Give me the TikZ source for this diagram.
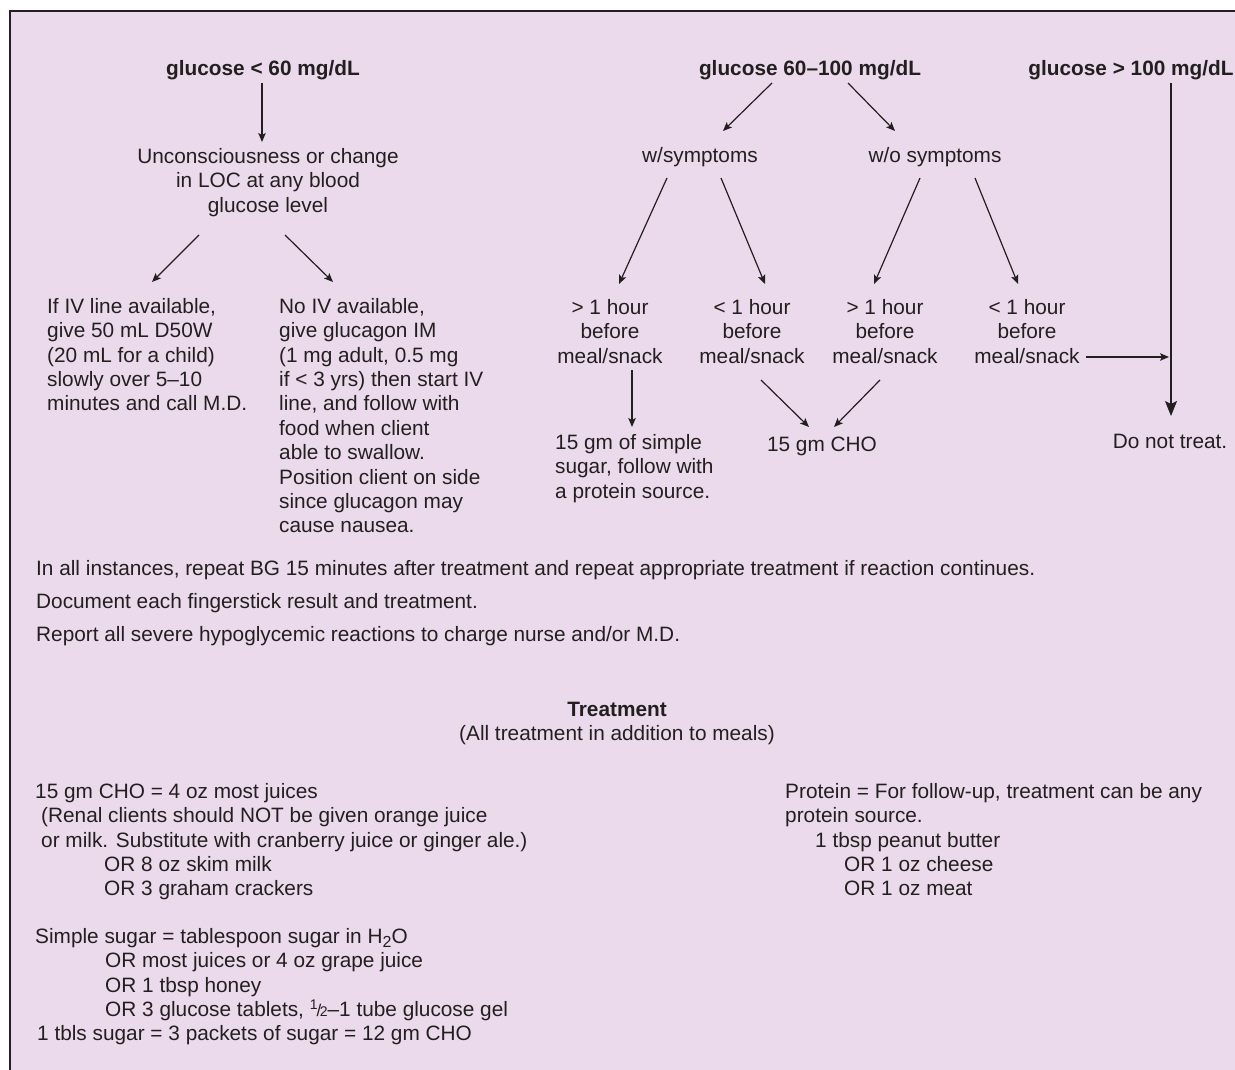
\documentclass[tikz,border=0pt]{standalone}
\usepackage{fontspec}
\setmainfont{Liberation Sans}
\usetikzlibrary{arrows.meta, calc}
\definecolor{panel}{RGB}{235,218,235}
\definecolor{ink}{RGB}{35,31,32}
% small 1/2 fraction and a lowered subscript two
\newcommand{\halfsym}{\raisebox{6.5pt}{\fontsize{14}{14}\selectfont 1}\kern-1pt{\fontsize{17}{17}\selectfont /}\kern-1.5pt{\fontsize{14}{14}\selectfont 2}}
\newcommand{\subtwo}{\raisebox{-4.5pt}{\fontsize{16}{16}\selectfont 2}}

\begin{document}
\begin{tikzpicture}[
  x=1pt, y=-1pt,
  font=\fontsize{20.8}{24.4}\selectfont,
  every node/.style={inner sep=0pt, text=ink},
  hd/.style={font=\fontsize{20.8}{24.4}\selectfont\bfseries, anchor=base},
  one/.style={anchor=base},
  blk/.style={align=left, anchor=north west, execute at begin node=\strut},
  ctr/.style={align=center, anchor=north, execute at begin node=\strut},
  fl/.style={-{Stealth[length=9pt, width=7.5pt, inset=2pt]}, line width=1.2pt, ink},
  flb/.style={-{Stealth[length=15pt, width=12pt, inset=3pt]}, line width=1.3pt, ink},
]
% --- panel ---
\useasboundingbox (0,0) rectangle (1235,1070);
\fill[panel] (10,11) rectangle (1235,1070);
\draw[ink, line width=1.4pt] (10,1070) -- (10,11) -- (1235,11);

% --- three glucose ranges ---
\node[hd] (glow)  at (263,76)  {glucose < 60 mg/dL};
\node[hd] (gmid)  at (810,76)  {glucose 60--100 mg/dL};
\node[hd] (ghigh) at (1131,76) {glucose > 100 mg/dL};

% --- low branch ---
\node[ctr] (loc) at (268,148) {Unconsciousness or change\\in LOC at any blood\\glucose level};
\node[blk] (iv) at (47,298) {If IV line available,\\give 50 mL D50W\\(20 mL for a child)\\slowly over 5--10\\minutes and call M.D.};
\node[blk] (noiv) at (279,298) {No IV available,\\give glucagon IM\\(1 mg adult, 0.5 mg\\if < 3 yrs) then start IV\\line, and follow with\\food when client\\able to swallow.\\Position client on side\\since glucagon may\\cause nausea.};
\draw[fl] ($(glow.base)+(-1,7)$) -- ($(loc.north)+(-6,-6)$);
\draw[fl] ($(loc.north)+(-69,87)$) -- ($(iv.north west)+(105,-16)$);
\draw[fl] ($(loc.north)+(17,87)$) -- ($(noiv.north west)+(54,-16)$);

% --- middle branch ---
\node[one] (wsym)  at (700,163) {w/symptoms};
\node[one] (wosym) at (935,163) {w/o symptoms};
\node[ctr] (h1) at (610,299)  {> 1 hour\\before\\meal/snack};
\node[ctr] (h2) at (752,299)  {< 1 hour\\before\\meal/snack};
\node[ctr] (h3) at (885,299)  {> 1 hour\\before\\meal/snack};
\node[ctr] (h4) at (1027,299) {< 1 hour\\before\\meal/snack};
\node[blk] (sugar) at (555,434) {15 gm of simple\\sugar, follow with\\a protein source.};
\node[one] (cho) at (822,451) {15 gm CHO};
\draw[fl] ($(gmid.base)+(-38,7)$) -- ($(wsym.base)+(23,-32)$);
\draw[fl] ($(gmid.base)+(38,7)$) -- ($(wosym.base)+(-40,-32)$);
\draw[fl] ($(wsym.base)+(-33,15)$) -- ($(h1.north)+(9,-15)$);
\draw[fl] ($(wsym.base)+(21,15)$) -- ($(h2.north)+(13,-15)$);
\draw[fl] ($(wosym.base)+(-15,15)$) -- ($(h3.north)+(-11,-15)$);
\draw[fl] ($(wosym.base)+(40,15)$) -- ($(h4.north)+(-9,-15)$);
\draw[fl] ($(h1.north)+(22,71)$) -- ($(sugar.north west)+(77,-7)$);
\draw[fl] ($(h2.north)+(9,81)$) -- ($(cho.base)+(-13,-24)$);
\draw[fl] ($(h3.north)+(-5,81)$) -- ($(cho.base)+(12,-24)$);

% --- high branch ---
\node[one] (dnt) at (1170,448) {Do not treat.};
\draw[flb] ($(ghigh.base)+(40,7)$) -- ($(dnt.base)+(1,-32)$);
\draw[fl] ($(h4.north east)+(6.5,58)$) -- ($(ghigh.base)+(38,281)$);

% --- notes ---
\node[blk] (notes) at (36,560) {In all instances, repeat BG 15 minutes after treatment and repeat appropriate treatment if reaction continues.\\[8.6pt]
  Document each fingerstick result and treatment.\\[8.6pt]
  Report all severe hypoglycemic reactions to charge nurse and/or M.D.};

% --- treatment lists ---
\node[ctr] (trt) at (617,702) {\textbf{Treatment}\\(All treatment in addition to meals)};
\node[blk] (cholist) at (35,783) {15 gm CHO = 4 oz most juices\\
  \hspace*{6pt}(Renal clients should NOT be given orange juice\\
  \hspace*{6pt}or milk. Substitute with cranberry juice or ginger ale.)\\
  \hspace*{69pt}OR 8 oz skim milk\\
  \hspace*{69pt}OR 3 graham crackers};
\node[blk] (sugarlist) at (35,928) {Simple sugar = tablespoon sugar in H\subtwo O\\
  \hspace*{70pt}OR most juices or 4 oz grape juice\\
  \hspace*{70pt}OR 1 tbsp honey\\
  \hspace*{70pt}OR 3 glucose tablets, \halfsym--1 tube glucose gel\\
  \hspace*{2pt}1 tbls sugar = 3 packets of sugar = 12 gm CHO};
\node[blk] (prot) at (785,783) {Protein = For follow-up, treatment can be any\\
  protein source.\\
  \hspace*{30pt}1 tbsp peanut butter\\
  \hspace*{59pt}OR 1 oz cheese\\
  \hspace*{59pt}OR 1 oz meat};
\end{tikzpicture}
\end{document}
